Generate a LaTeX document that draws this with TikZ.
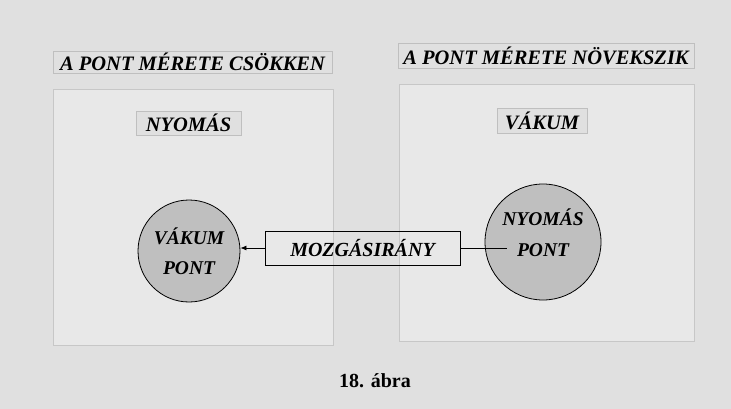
\documentclass[tikz,border=0pt]{standalone}
\usepackage{fontspec}
\setmainfont{Liberation Serif}
\usetikzlibrary{arrows.meta}

\begin{document}
\begin{tikzpicture}[x=1pt,y=-1pt,
  panel/.style={draw=black!22,fill=black!9,line width=0.8pt},
  titlebox/.style={draw=black!25,line width=0.8pt,inner sep=0pt,font=\fontsize{20.5}{24}\selectfont\bfseries\itshape},
  pontkor/.style={circle,draw=black,fill=black!25,line width=0.8pt,inner sep=0pt}]

% Background
\fill[black!12] (0,0) rectangle (731,409);
\useasboundingbox (0,0) rectangle (731,409);

% Panels
\filldraw[panel] (53,89) rectangle (333,345);
\filldraw[panel] (399,84) rectangle (694,341);

% Titles
\node[titlebox,minimum width=279,minimum height=22] (csokken) at (192.5,62) {A PONT MÉRETE CSÖKKEN};
\node[titlebox,minimum width=296,minimum height=25] (novekszik) at (546,55.5) {A PONT MÉRETE NÖVEKSZIK};

% Pressure / vacuum labels
\node[titlebox,fill=black!12,minimum width=105,minimum height=24] (nyomas) at (188.5,123) {NYOMÁS};
\node[titlebox,fill=black!12,minimum width=90,minimum height=25] (vakum) at (542,120.5) {VÁKUM};

% Points
\node[pontkor,minimum size=102,
  label={[font=\fontsize{19.5}{30}\selectfont\bfseries\itshape,align=center]center:VÁKUM\\PONT}] (vakumpont) at (189,251) {};
\node[pontkor,minimum size=116,
  label={[font=\fontsize{19.5}{31}\selectfont\bfseries\itshape,align=center,yshift=9pt]center:NYOMÁS\\PONT}] (nyomaspont) at (543,242) {};

% Direction of motion
\node[draw=black,line width=1pt,minimum width=195,minimum height=34,inner sep=0pt,
  font=\fontsize{20}{24}\selectfont\bfseries\itshape] (irany) at (362.5,248) {MOZGÁSIRÁNY};
\coordinate (belso) at (507,248);
\draw[line width=0.8pt,-{Latex[length=6pt,width=5pt]}] (irany.west) -- (irany.west -| vakumpont.east);
\draw[line width=0.8pt] (irany.east) -- (belso);

% Caption
\node[font=\fontsize{20}{24}\selectfont\bfseries] (abra) at (375,381) {18. ábra};
\end{tikzpicture}
\end{document}
